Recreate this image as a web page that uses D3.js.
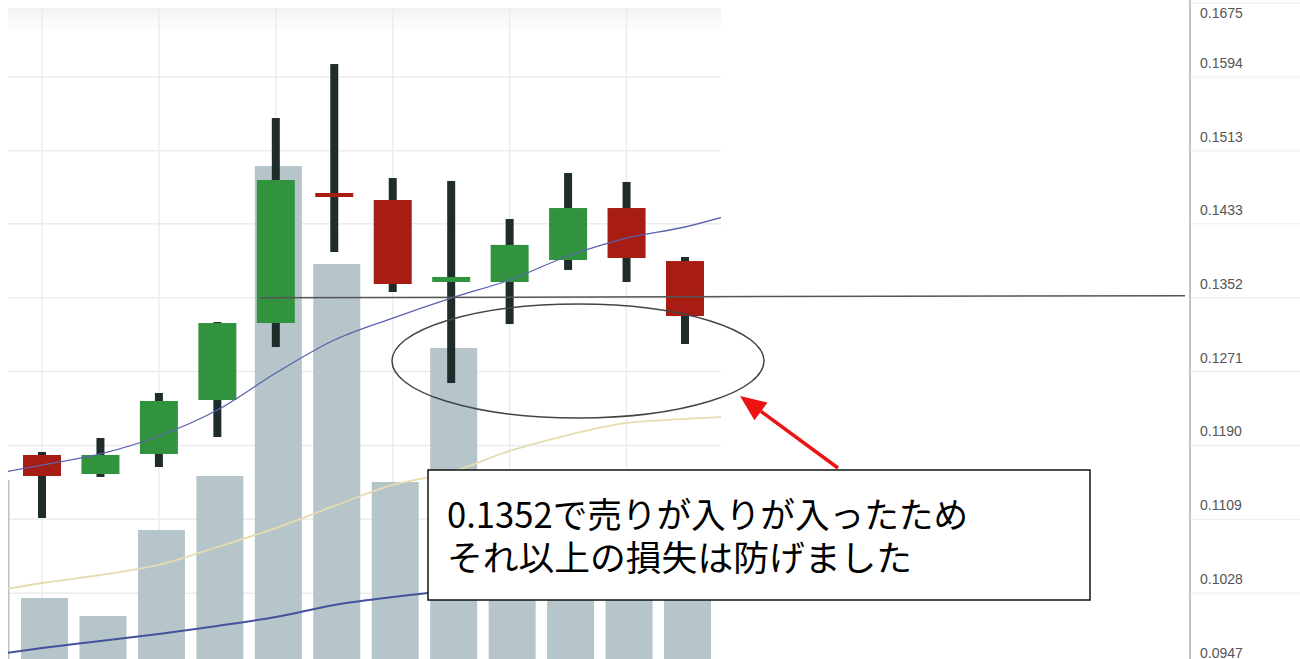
<!DOCTYPE html>
<html>
<head>
<meta charset="utf-8">
<script src="https://cdn.jsdelivr.net/npm/d3@7"></script>
<style>
  body { margin: 0; background: #fff; }
  svg { display: block; }
</style>
</head>
<body>
<div id="chart"></div>
<script>
// candle data (index 0..11), prices
var candleIndex = [0, 1, 2, 3, 4, 5, 6, 7, 8, 9, 10, 11];
var openPrices  = [0.11795, 0.11586, 0.11806, 0.12398, 0.13242, 0.14668, 0.14591, 0.13692, 0.13692, 0.13933, 0.14503, 0.13922];
var highPrices  = [0.11828, 0.11981, 0.12475, 0.13253, 0.15490, 0.16082, 0.14832, 0.14800, 0.14383, 0.14887, 0.14789, 0.13966];
var lowPrices   = [0.11104, 0.11554, 0.11663, 0.11992, 0.12979, 0.14021, 0.13582, 0.12584, 0.13231, 0.13824, 0.13692, 0.13012];
var closePrices = [0.11564, 0.11795, 0.12387, 0.13242, 0.14810, 0.14624, 0.13670, 0.13747, 0.14099, 0.14503, 0.13955, 0.13319];

// volume bars (index -1..11), arbitrary units
var volumeIndex = [-1, 0, 1, 2, 3, 4, 5, 6, 7, 8, 9, 10, 11];
var volumes = [180, 62, 44, 130, 184, 494, 396, 178, 312, 150, 125, 105, 95];

// moving averages (index -1..12)
var maIndex = [-1, 0, 1, 2, 3, 4, 5, 6, 7, 8, 9, 10, 11, 12];
var maFast = [0.11564, 0.11685, 0.11806, 0.12003, 0.12288, 0.12694, 0.13056, 0.13297, 0.13516, 0.13714, 0.13977, 0.14174, 0.14295, 0.14470];
var maMid  = [0.10282, 0.10391, 0.10479, 0.10589, 0.10786, 0.10994, 0.11236, 0.11466, 0.11608, 0.11839, 0.12014, 0.12146, 0.12190, 0.12222];
var maSlow = [0.09591, 0.09678, 0.09755, 0.09832, 0.09920, 0.10018, 0.10150, 0.10238, 0.10314, 0.10424, 0.10534, 0.10632, 0.10731, 0.10819];

// right axis ticks
var tickValues = [0.0947, 0.1028, 0.1109, 0.1190, 0.1271, 0.1352, 0.1433, 0.1513, 0.1594, 0.1675];

var sellPrice = 0.1352;
var noteLines = ["0.1352で売りが入りが入ったため", "それ以上の損失は防げました"];

var svgWidth = 1300;
var svgHeight = 659;

var plot = { left: 8, top: 8, right: 721, bottom: 659 };
var axisX = 1190;

var svg = d3.select("#chart")
  .append("svg")
  .attr("width", svgWidth)
  .attr("height", svgHeight);

var defs = svg.append("defs");
defs.append("clipPath")
  .attr("id", "plotClip")
  .append("rect")
  .attr("x", plot.left)
  .attr("y", plot.top)
  .attr("width", plot.right - plot.left)
  .attr("height", plot.bottom - plot.top);

var topShade = defs.append("linearGradient")
  .attr("id", "topShade")
  .attr("x1", 0).attr("y1", 0).attr("x2", 0).attr("y2", 1);
topShade.append("stop").attr("offset", "0%").attr("stop-color", "#f3f3f3");
topShade.append("stop").attr("offset", "100%").attr("stop-color", "#ffffff");

// scales
var xScale = d3.scaleLinear()
  .domain([0, 11])
  .range([42, 685]);

var yScale = d3.scaleLinear()
  .domain([0.0947, 0.1594])
  .range([667, 77]);

var volScale = d3.scaleLinear()
  .domain([0, 500])
  .range([660, 160]);

var plotGroup = svg.append("g").attr("clip-path", "url(#plotClip)");

plotGroup.append("rect")
  .attr("x", plot.left)
  .attr("y", plot.top)
  .attr("width", plot.right - plot.left)
  .attr("height", 26)
  .attr("fill", "url(#topShade)");

// grid
plotGroup.selectAll(".hgrid")
  .data(tickValues)
  .enter()
  .append("line")
  .attr("class", "hgrid")
  .attr("x1", plot.left)
  .attr("x2", plot.right)
  .attr("y1", d => yScale(d))
  .attr("y2", d => yScale(d))
  .attr("stroke", "#ececec")
  .attr("stroke-width", 1.5);

plotGroup.selectAll(".vgrid")
  .data(candleIndex.filter(d => d % 2 === 0))
  .enter()
  .append("line")
  .attr("class", "vgrid")
  .attr("x1", d => xScale(d))
  .attr("x2", d => xScale(d))
  .attr("y1", plot.top)
  .attr("y2", plot.bottom)
  .attr("stroke", "#ececec")
  .attr("stroke-width", 1.5);

// volume bars
var barWidth = 47;
plotGroup.selectAll(".vol")
  .data(volumeIndex)
  .enter()
  .append("rect")
  .attr("class", "vol")
  .attr("x", (d) => xScale(d) + 2.5 - barWidth / 2)
  .attr("y", (d, i) => volScale(volumes[i]))
  .attr("width", barWidth)
  .attr("height", (d, i) => volScale(0) - volScale(volumes[i]))
  .attr("fill", "#b5c5ca");

// moving averages
function maLine(values) {
  return d3.line()
    .x((d, i) => xScale(maIndex[i]))
    .y(d => yScale(d))
    .curve(d3.curveMonotoneX)(values);
}

plotGroup.append("path")
  .attr("d", maLine(maMid))
  .attr("fill", "none")
  .attr("stroke", "#e6dcb0")
  .attr("stroke-width", 1.8);

plotGroup.append("path")
  .attr("d", maLine(maSlow))
  .attr("fill", "none")
  .attr("stroke", "#43529a")
  .attr("stroke-width", 2);

// candles
var bodyWidth = 38;
var candles = plotGroup.selectAll(".candle")
  .data(candleIndex)
  .enter()
  .append("g")
  .attr("class", "candle");

candles.append("rect")
  .attr("x", d => xScale(d) - 4)
  .attr("y", (d, i) => yScale(highPrices[i]))
  .attr("width", 8)
  .attr("height", (d, i) => yScale(lowPrices[i]) - yScale(highPrices[i]))
  .attr("fill", "#1f2c2c");

candles.append("rect")
  .attr("x", d => xScale(d) - bodyWidth / 2)
  .attr("y", (d, i) => yScale(Math.max(openPrices[i], closePrices[i])))
  .attr("width", bodyWidth)
  .attr("height", (d, i) => Math.max(4, Math.abs(yScale(openPrices[i]) - yScale(closePrices[i]))))
  .attr("fill", (d, i) => closePrices[i] >= openPrices[i] ? "#32933f" : "#a81d13");

plotGroup.append("path")
  .attr("d", maLine(maFast))
  .attr("fill", "none")
  .attr("stroke", "#5a62ad")
  .attr("stroke-width", 1.3);

// right price axis
svg.append("line")
  .attr("x1", axisX)
  .attr("x2", axisX)
  .attr("y1", 0)
  .attr("y2", svgHeight)
  .attr("stroke", "#b9c6c6")
  .attr("stroke-width", 2);

svg.selectAll(".tickline")
  .data(tickValues)
  .enter()
  .append("line")
  .attr("class", "tickline")
  .attr("x1", axisX + 1)
  .attr("x2", svgWidth)
  .attr("y1", d => yScale(d))
  .attr("y2", d => yScale(d))
  .attr("stroke", "#ececec")
  .attr("stroke-width", 1);

svg.selectAll(".ticklabel")
  .data(tickValues)
  .enter()
  .append("text")
  .attr("class", "ticklabel")
  .attr("x", axisX + 10)
  .attr("y", d => Math.max(yScale(d) - 14, 13) + 5)
  .attr("font-family", "Liberation Sans, Arial, sans-serif")
  .attr("font-size", 14)
  .attr("fill", "#555")
  .text(d => d3.format(".4f")(d));

// sell price line
svg.append("line")
  .attr("x1", 260)
  .attr("x2", 1185)
  .attr("y1", yScale(sellPrice))
  .attr("y2", yScale(sellPrice) - 2)
  .attr("stroke", "#555")
  .attr("stroke-width", 1.5);

// ellipse around the lows
svg.append("ellipse")
  .attr("cx", 578)
  .attr("cy", 361)
  .attr("rx", 186)
  .attr("ry", 57)
  .attr("fill", "none")
  .attr("stroke", "#444")
  .attr("stroke-width", 1.5);

// red arrow
var tail = [838, 468], tip = [740, 396];
var ang = Math.atan2(tip[1] - tail[1], tip[0] - tail[0]);
var headLen = 26, headHalf = 11;
var base = [tip[0] - headLen * Math.cos(ang), tip[1] - headLen * Math.sin(ang)];
svg.append("line")
  .attr("x1", tail[0])
  .attr("y1", tail[1])
  .attr("x2", base[0])
  .attr("y2", base[1])
  .attr("stroke", "#ee1111")
  .attr("stroke-width", 3.5);
svg.append("polygon")
  .attr("points", [
    tip,
    [base[0] + headHalf * Math.sin(ang), base[1] - headHalf * Math.cos(ang)],
    [base[0] - headHalf * Math.sin(ang), base[1] + headHalf * Math.cos(ang)]
  ].map(p => p.join(",")).join(" "))
  .attr("fill", "#ee1111");

// annotation box
svg.append("rect")
  .attr("x", 428)
  .attr("y", 470)
  .attr("width", 662)
  .attr("height", 130)
  .attr("fill", "#fff")
  .attr("stroke", "#111")
  .attr("stroke-width", 1.5);

var noteWidths = [521, 465];
svg.selectAll(".note")
  .data(noteLines)
  .enter()
  .append("text")
  .attr("class", "note")
  .attr("x", 447)
  .attr("y", (d, i) => 528 + i * 43)
  .attr("font-family", "Noto Sans CJK JP, sans-serif")
  .attr("font-size", 35)
  .attr("fill", "#000")
  .attr("textLength", (d, i) => noteWidths[i])
  .attr("lengthAdjust", "spacingAndGlyphs")
  .text(d => d);
</script>
</body>
</html>
